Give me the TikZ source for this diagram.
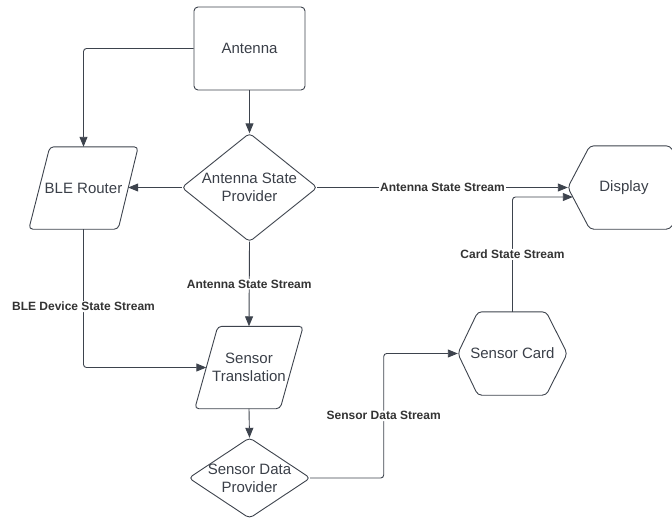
\documentclass[tikz,border=0pt]{standalone}
\usepackage{fontspec}
\setmainfont{Liberation Sans}
\usetikzlibrary{arrows.meta}
\definecolor{linec}{HTML}{3D434D}
\definecolor{textc}{HTML}{3A3F48}
\definecolor{lblc}{HTML}{333333}
\tikzset{
  shp/.style={draw=linec, line width=0.9pt, rounded corners=4pt, line join=round},
  body/.style={inner sep=0pt, align=center, font=\fontsize{15}{18}\selectfont, text=textc},
  arr/.style={draw=linec, line width=0.9pt, rounded corners=3pt, -{Triangle[length=10pt,width=8pt]}},
  lbl/.style={font=\bfseries\fontsize{12}{14}\selectfont, text=lblc, fill=white, inner sep=1pt},
}
\begin{document}
\begin{tikzpicture}[x=1pt,y=-1pt]
\useasboundingbox (0,0) rectangle (672,520);
% nodes
\node[body, shp, minimum width=111pt, minimum height=83pt] (ant) at (249.5,48.5) {Antenna};
\node[body, minimum width=135pt, minimum height=108pt] (asp) at (249.5,187.5) {Antenna State\\Provider};
\node[body, minimum width=109pt, minimum height=82pt] (br) at (83.5,188) {BLE Router};
\node[body, minimum width=112pt, minimum height=83pt] (disp) at (624,187.5) {Display};
\node[body, minimum width=109pt, minimum height=83pt] (sc) at (512.5,353.5) {Sensor Card};
\node[body, minimum width=108pt, minimum height=82pt] (st) at (249,367.5) {Sensor\\Translation};
\node[body, minimum width=121pt, minimum height=80pt] (sdp) at (249.5,478) {Sensor Data\\Provider};
% outlines
\draw[shp] (asp.north) -- (asp.east) -- (asp.south) -- (asp.west) -- cycle;
\draw[shp] (sdp.north) -- (sdp.east) -- (sdp.south) -- (sdp.west) -- cycle;
\draw[shp] ([xshift=21pt]br.north west) -- (br.north east) -- ([xshift=-20pt]br.south east) -- (br.south west) -- cycle;
\draw[shp] ([xshift=23pt]st.north west) -- (st.north east) -- ([xshift=-23pt]st.south east) -- (st.south west) -- cycle;
\draw[shp] (sc.west) -- ([xshift=20pt]sc.north west) -- ([xshift=-21pt]sc.north east) -- (sc.east) -- ([xshift=-21pt]sc.south east) -- ([xshift=20pt]sc.south west) -- cycle;
\draw[shp] (disp.west) -- ([xshift=22pt]disp.north west) -- ([xshift=-10pt]disp.north east) -- ([xshift=12pt]disp.east) -- ([xshift=-10pt]disp.south east) -- ([xshift=22pt]disp.south west) -- cycle;
% helper points on slanted edges
\coordinate (brR) at ([xshift=-10pt]br.east);
\coordinate (stL) at ([xshift=11.5pt]st.west);
\coordinate (dispL) at ([xshift=5pt,yshift=-9.5pt]disp.west);
% connectors
\draw[arr] (ant.west) -| (br.north);
\draw[arr] (ant.south) -- (asp.north);
\draw[arr] (asp.west) -- (asp.west -| brR);
\draw[arr] (asp.east) -- node[lbl]{Antenna State Stream} (disp.west);
\draw[arr] (sc.north) |- node[lbl,pos=0.25]{Card State Stream} (dispL);
\draw[arr] (asp.south) -- node[lbl]{Antenna State Stream} (st.north);
\draw[arr] (br.south) |- node[lbl,pos=0.28]{BLE Device State Stream} (stL);
\draw[arr] (st.south) -- (sdp.north);
\draw[arr] (sdp.east) -- ++(73.5,0) |- node[lbl,pos=0.25]{Sensor Data Stream} (sc.west);
\end{tikzpicture}
\end{document}
